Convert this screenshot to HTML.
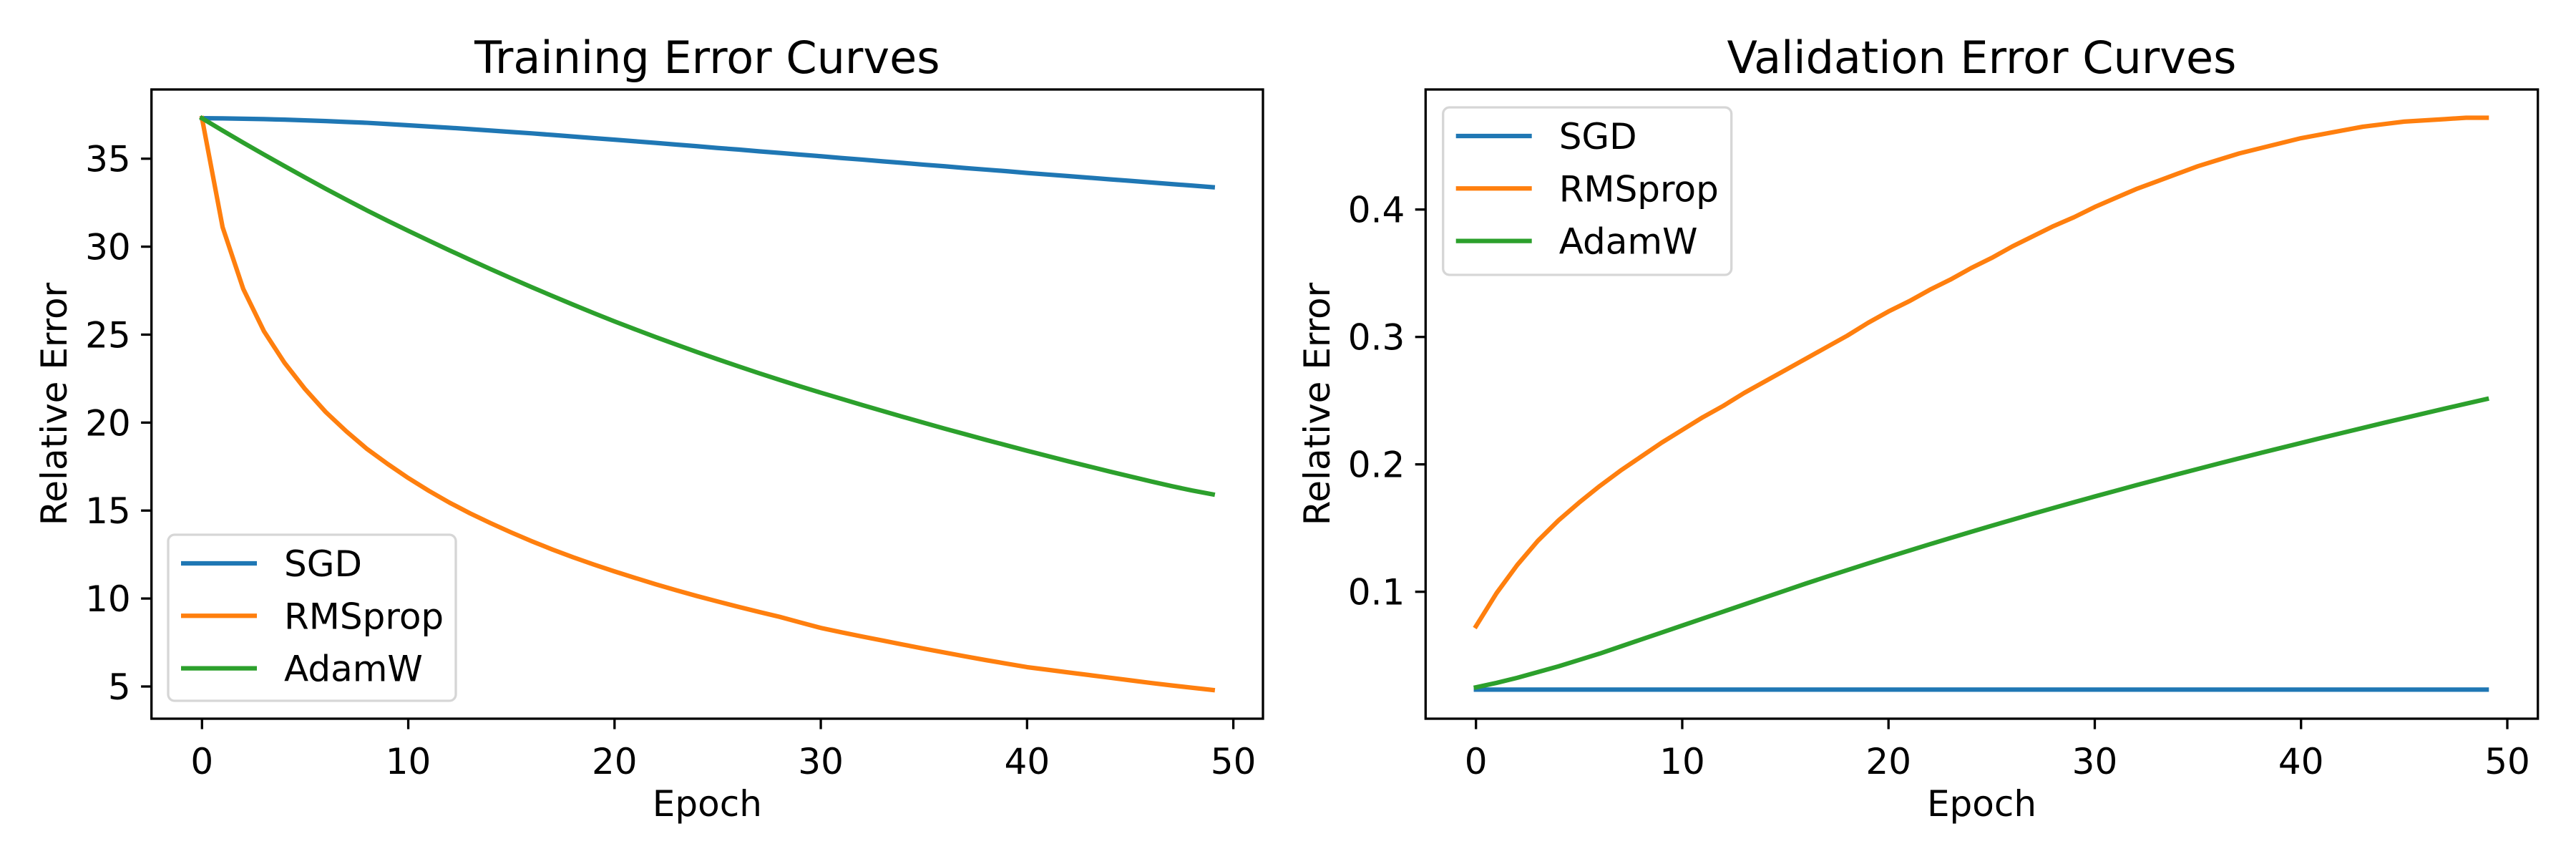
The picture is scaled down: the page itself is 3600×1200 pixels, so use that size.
<!DOCTYPE html>
<html><head><meta charset="utf-8">
<style>
html,body{margin:0;padding:0;background:#fff;}
svg{display:block;font-family:"DejaVu Sans","Liberation Sans",sans-serif;}
</style></head>
<body>
<svg id="fig" width="3600" height="1200" viewBox="0 0 3600 1200" xmlns="http://www.w3.org/2000/svg">
<rect width="3600" height="1200" fill="#fff"/>
</svg>
<script>
const epochs = Array.from({length:50},(_,i)=>i);
const trainSGD = [37.3,37.29,37.27,37.25,37.22,37.18,37.14,37.09,37.04,36.97,36.9,36.83,36.76,36.68,36.6,36.52,36.44,36.35,36.26,36.17,36.08,35.99,35.9,35.8,35.71,35.61,35.52,35.42,35.33,35.23,35.14,35.04,34.95,34.85,34.76,34.66,34.57,34.47,34.38,34.29,34.19,34.1,34.01,33.92,33.83,33.74,33.65,33.56,33.47,33.38];
const trainRMS = [37.3,31.1,27.6,25.2,23.4,21.9,20.6,19.5,18.5,17.65,16.85,16.12,15.45,14.84,14.28,13.75,13.25,12.78,12.34,11.93,11.54,11.17,10.81,10.47,10.14,9.83,9.53,9.24,8.96,8.64,8.33,8.08,7.84,7.61,7.38,7.15,6.93,6.71,6.5,6.3,6.1,5.95,5.8,5.65,5.5,5.35,5.2,5.06,4.93,4.8];
const trainAdamW = [37.3,36.6,35.91,35.24,34.58,33.93,33.29,32.67,32.06,31.47,30.9,30.34,29.79,29.25,28.72,28.2,27.69,27.19,26.7,26.22,25.75,25.3,24.86,24.43,24.01,23.6,23.2,22.81,22.43,22.06,21.7,21.35,21.0,20.66,20.32,19.99,19.66,19.34,19.02,18.71,18.4,18.1,17.8,17.51,17.22,16.94,16.66,16.39,16.14,15.92];
const valSGD = Array(50).fill(0.0232);
const valRMS = [0.073,0.099,0.121,0.140,0.156,0.170,0.183,0.195,0.206,0.217,0.227,0.237,0.246,0.256,0.265,0.274,0.283,0.292,0.301,0.311,0.320,0.328,0.337,0.345,0.354,0.362,0.371,0.379,0.387,0.394,0.402,0.409,0.416,0.422,0.428,0.434,0.439,0.444,0.448,0.452,0.456,0.459,0.462,0.465,0.467,0.469,0.470,0.471,0.472,0.472];
const valAdamW = [0.025,0.0285,0.0325,0.037,0.0415,0.0465,0.0515,0.057,0.0625,0.068,0.0735,0.079,0.0845,0.09,0.0955,0.101,0.1065,0.1118,0.117,0.1222,0.1273,0.1323,0.1373,0.1422,0.147,0.1518,0.1565,0.1612,0.1658,0.1703,0.1748,0.1792,0.1836,0.1879,0.1922,0.1964,0.2006,0.2047,0.2088,0.2128,0.2168,0.2208,0.2247,0.2286,0.2325,0.2363,0.2401,0.2439,0.2476,0.2513];
const xTicks = [0,10,20,30,40,50];
const trainYTicks = [5,10,15,20,25,30,35];
const valYTicks = [0.1,0.2,0.3,0.4];
const valYTickLabels = ["0.1","0.2","0.3","0.4"];
const seriesNames = ["SGD","RMSprop","AdamW"];
const colors = ["#1f77b4","#ff7f0e","#2ca02c"];

const NS="http://www.w3.org/2000/svg";
const svg=document.getElementById('fig');
function mk(tag,attrs,parent){const e=document.createElementNS(NS,tag);for(const k in attrs)e.setAttribute(k,attrs[k]);(parent||svg).appendChild(e);return e;}

function drawPanel(p){
  const g=mk('g',{});
  
  
  const L=p.left,R=p.right,T=125,B=1004;
  const xs=v=>p.x0+v*(p.x50-p.x0)/50;
  const ys=v=>p.ya+(v-p.va)*(p.yb-p.ya)/(p.vb-p.va);
  const t=mk('text',{x:(L+R)/2,y:102,'font-size':62,'text-anchor':'middle',fill:'#000'},g);
  t.textContent=p.title;
  
  
  const clip='clip-'+p.name;
  const cp=mk('clipPath',{id:clip},g);mk('rect',{x:L,y:T,width:R-L,height:B-T},cp);
  p.series.forEach((s,i)=>{
    const d=epochs.map((e,j)=>(j?'L':'M')+xs(e).toFixed(2)+' '+ys(s[j]).toFixed(2)).join(' ');
    const path=mk('path',{d:d,fill:'none',stroke:colors[i],'stroke-width':6.25,'stroke-linejoin':'round','stroke-linecap':'square','clip-path':'url(#'+clip+')'},g);
    
    
  });
  const fr=mk('rect',{x:L,y:T,width:R-L,height:B-T,fill:'none',stroke:'#000','stroke-width':3.3},g);
  
  
  xTicks.forEach(v=>{
    const x=xs(v);
    const tk=mk('line',{x1:x,x2:x,y1:B,y2:B+14.6,stroke:'#000','stroke-width':3.3},g);
    
    
    const lb=mk('text',{x:x,y:1081,'font-size':50,'text-anchor':'middle',fill:'#000'},g);
    lb.textContent=String(v);
    
    
  });
  p.yticks.forEach((v,i)=>{
    const y=ys(v);
    const tk=mk('line',{x1:L-14.6,x2:L,y1:y,y2:y,stroke:'#000','stroke-width':3.3},g);
    
    
    const lb=mk('text',{x:L-29,y:y+18,'font-size':50,'text-anchor':'end',fill:'#000'},g);
    lb.textContent=p.ylabels[i];
    
    
  });
  const xl=mk('text',{x:(L+R)/2,y:1140,'font-size':50,'text-anchor':'middle',fill:'#000'},g);
  xl.textContent='Epoch';
  
  
  const yl=mk('text',{x:0,y:0,'font-size':50,'text-anchor':'middle',fill:'#000',transform:'translate('+p.ylx+','+((T+B)/2)+') rotate(-90)'},g);
  yl.textContent='Relative Error';
  
  
  const lg=mk('g',{},g);
  
  
  mk('rect',{x:p.lg.x,y:p.lg.y,width:p.lg.w,height:p.lg.h,rx:9,fill:'#fff','fill-opacity':0.8,stroke:'#d6d6d6','stroke-width':3.3},lg);
  seriesNames.forEach((n,i)=>{
    const y=p.lg.y+40+i*73.3;
    const e=mk('g',{},lg);
    
    
    mk('line',{x1:p.lg.x+18,x2:p.lg.x+124,y1:y,y2:y,stroke:colors[i],'stroke-width':6.25},e);
    const tx=mk('text',{x:p.lg.x+162,y:y+18,'font-size':50,fill:'#000'},e);
    tx.textContent=n;
  });
}

drawPanel({name:'training-panel',title:'Training Error Curves',left:211.7,right:1765,x0:282.3,x50:1723.6,
  ya:221.7,va:35,yb:959,vb:5,yticks:trainYTicks,ylabels:trainYTicks.map(String),ylx:93,
  series:[trainSGD,trainRMS,trainAdamW],lg:{x:235,y:747,w:402,h:232}});
drawPanel({name:'validation-panel',title:'Validation Error Curves',left:1992.3,right:3546.7,x0:2062.7,x50:3504,
  ya:292.7,va:0.4,yb:826.7,vb:0.1,yticks:valYTicks,ylabels:valYTickLabels,ylx:1858,
  series:[valSGD,valRMS,valAdamW],lg:{x:2016.7,y:150,w:403,h:234}});
</script>
</body></html>
